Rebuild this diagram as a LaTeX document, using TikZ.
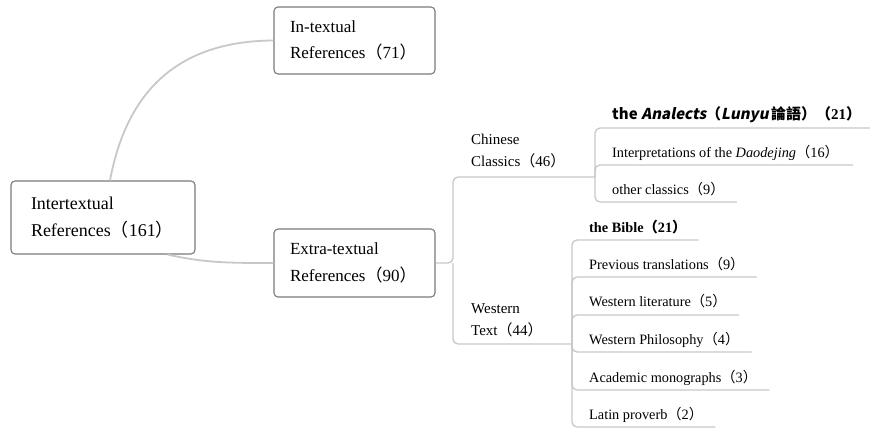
\documentclass[tikz,border=0pt]{standalone}
\usepackage{fontspec}
\setmainfont{Liberation Serif}
\newfontfamily\cjk{Noto Sans CJK SC}
\newfontfamily\cjksl[FakeSlant=0.2]{Noto Sans CJK SC}
\usetikzlibrary{calc}
\newcommand\lp{{\cjk （}}
\newcommand\rp{{\cjk ）}}
\definecolor{boxc}{HTML}{7A7A7A}
\definecolor{linec}{HTML}{C8C8C8}
\begin{document}
\begin{tikzpicture}[x=1pt,y=-1pt,
 box/.style={draw=boxc, line width=1.1pt, rounded corners=4pt, fill=white, align=left, font=\fontsize{17}{26.5}\selectfont},
 curve/.style={draw=linec, line width=1.8pt},
 branch/.style={draw=linec, line width=1.3pt, rounded corners=5pt},
 mid/.style={inner sep=0pt, font=\fontsize{15}{22.5}\selectfont, align=left},
 lbl/.style={inner sep=0pt, font=\fontsize{14.3}{20}\selectfont, align=left}]
\useasboundingbox[fill=white] (0,0) rectangle (870,428);

% boxes
\node[box, font=\fontsize{18}{27}\selectfont, minimum width=184pt, minimum height=73pt, text width=144pt, inner xsep=20pt] (root) at (103,217.5) {Intertextual\\References\lp161\rp};
\node[box, minimum width=161pt, minimum height=67pt, text width=129pt, inner xsep=16pt] (intx) at (354.5,40.5) {In-textual\\References\lp71\rp};
\node[box, minimum width=161pt, minimum height=68pt, text width=129pt, inner xsep=16pt] (extx) at (354.5,263) {Extra-textual\\References\lp90\rp};

% curves
\draw[curve] ($(root.north)+(7,0)$) .. controls (125,100) and (170,41) .. (intx.west);
\draw[curve] ($(root.south east)+(-28,0)$) .. controls (205,263) and (230,263) .. (extx.west);

% second level
\node[mid, anchor=west] (cc) at (471,151) {Chinese\\Classics\lp46\rp};
\node[mid, anchor=west] (wt) at (471,320.5) {Western\\Text\lp44\rp};
\coordinate (j1) at (453,263);
\coordinate (ccj) at (595,177);
\coordinate (wtj) at (572,344);
\draw[branch] (extx.east) -- (j1) |- (ccj);
\draw[branch] (j1) |- (wtj);

% Chinese classics children
\node[lbl, anchor=base west, font=\fontsize{15}{20}\selectfont\bfseries] (an) at (612,119)
 {{\cjk the} {\cjksl Analects}\lp{\cjksl Lunyu}\,{\cjk 論語}\rp\lp21\rp};
\node[lbl, anchor=base west] (dd) at (612,157) {Interpretations of the \textit{Daodejing}\lp16\rp};
\node[lbl, anchor=base west] (oc) at (612,194) {other classics\lp9\rp};
\draw[branch] (ccj) |- ($(an.base east)+(21,9)$);
\draw[branch] (ccj) |- ($(dd.base east)+(14,8)$);
\draw[branch] (ccj) |- ($(oc.base east)+(12,8)$);

% Western text children
\node[lbl, anchor=base west, font=\fontsize{14.3}{20}\selectfont\bfseries] (bi) at (589,232) {the Bible\lp21\rp};
\node[lbl, anchor=base west] (pt) at (589,269) {Previous translations\lp9\rp};
\node[lbl, anchor=base west] (wl) at (589,306) {Western literature\lp5\rp};
\node[lbl, anchor=base west] (wp) at (589,344) {Western Philosophy\lp4\rp};
\node[lbl, anchor=base west] (am) at (589,382) {Academic monographs\lp3\rp};
\node[lbl, anchor=base west] (lp) at (589,419) {Latin proverb\lp2\rp};
\draw[branch] (wtj) |- ($(bi.base east)+(12,8)$);
\draw[branch] (wtj) |- ($(pt.base east)+(12,8)$);
\draw[branch] (wtj) |- ($(wl.base east)+(12,9)$);
\draw[branch] (wtj) |- ($(wp.base east)+(12,8)$);
\draw[branch] (wtj) |- ($(am.base east)+(12,8)$);
\draw[branch] (wtj) |- ($(lp.base east)+(12,8)$);
\end{tikzpicture}
\end{document}
